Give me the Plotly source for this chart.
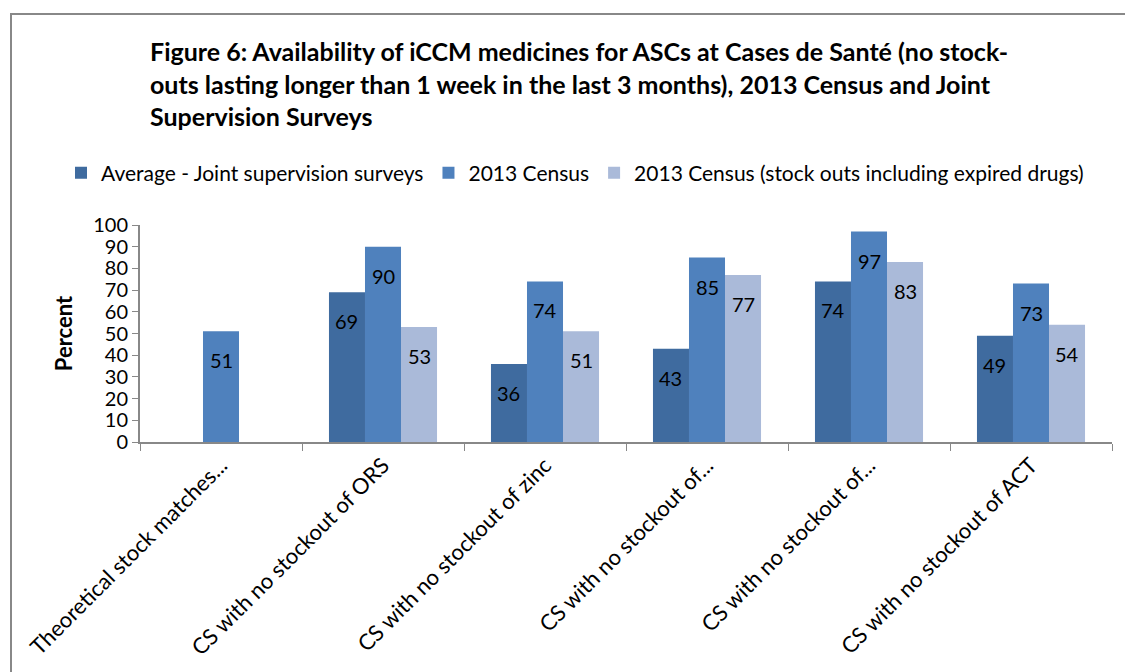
import plotly.graph_objects as go

categories = [
    "Theoretical stock matches...",
    "CS with no stockout of ORS",
    "CS with no stockout of zinc",
    "CS with no stockout of...",
    "CS with no stockout of...",
    "CS with no stockout of ACT",
]
cat_ids = ["c1", "c2", "c3", "c4", "c5", "c6"]
series_names = [
    "Average - Joint supervision surveys",
    "2013 Census",
    "2013 Census (stock outs including expired drugs)",
]
avg_joint = [None, 69, 36, 43, 74, 49]
census = [51, 90, 74, 85, 97, 73]
census_expired = [None, 53, 51, 77, 83, 54]
series_values = [avg_joint, census, census_expired]
colors = ["#3F6B9F", "#4F81BD", "#AABAD9"]
y_ticks = [0, 10, 20, 30, 40, 50, 60, 70, 80, 90, 100]

FONT = "Lato"
BARGAP = 0.333

# page pixel -> paper coordinates (plot area spans x 140..1112, y 225..442 on the page)
def px(x):
    return (x - 140) / 972

def py(y):
    return (442 - y) / 217

fig = go.Figure()
for name, vals, col in zip(series_names, series_values, colors):
    fig.add_trace(go.Bar(
        x=cat_ids, y=vals, name=name,
        marker=dict(color=col, line=dict(width=0)),
    ))

# data labels, near inside end of each bar
w = (1 - BARGAP) / 3
for si, vals in enumerate(series_values):
    for ci, v in enumerate(vals):
        if v is None:
            continue
        fig.add_annotation(
            x=ci + (si - 1) * w, y=v, xref="x", yref="y",
            text=str(v), showarrow=False, yshift=-29,
            font=dict(family=FONT, size=20, color="#000000"),
        )

title = ("<b>Figure 6: Availability of iCCM medicines for ASCs at Cases de Santé (no stock-<br>"
         "outs lasting longer than 1 week in the last 3 months), 2013 Census and Joint<br>"
         "Supervision Surveys</b>")
fig.add_annotation(
    x=px(148), y=py(34), xref="paper", yref="paper", text=title, showarrow=False,
    xanchor="left", yanchor="top", align="left",
    font=dict(family=FONT, size=25, color="#000000"),
)

fig.update_layout(
    width=1125, height=664,
    margin=dict(l=132, r=21, t=217, b=230),
    paper_bgcolor="white", plot_bgcolor="white",
    barmode="group", bargap=BARGAP, bargroupgap=0,
    font=dict(family=FONT, size=20, color="#000000"),
    showlegend=True,
    legend=dict(
        orientation="h", x=px(61), xanchor="left", y=py(173), yanchor="middle",
        font=dict(family=FONT, size=21), itemwidth=30,
        traceorder="normal",
    ),
    xaxis=dict(
        type="category", tickmode="array", tickvals=cat_ids, ticktext=categories,
        tickangle=-45, tickson="boundaries", ticks="outside", ticklen=7,
        tickcolor="#888888", showline=True, linecolor="#888888", linewidth=2,
        tickfont=dict(family=FONT, size=22), showgrid=False,
    ),
    yaxis=dict(
        range=[0, 100], tickvals=y_ticks, ticks="outside", ticklen=6,
        tickcolor="#888888", showline=True, linecolor="#888888", linewidth=2,
        tickfont=dict(family=FONT, size=20), showgrid=False, zeroline=False,
        title=dict(text="<b>Percent</b>", font=dict(family=FONT, size=22), standoff=14),
    ),
)

# outer chart frame (extends beyond the visible area)
fig.add_shape(type="rect", xref="paper", yref="paper",
              x0=px(11), x1=1.2, y0=-2, y1=py(14),
              line=dict(color="#888888", width=2), fillcolor="rgba(0,0,0,0)")

fig.write_html("out.html")
